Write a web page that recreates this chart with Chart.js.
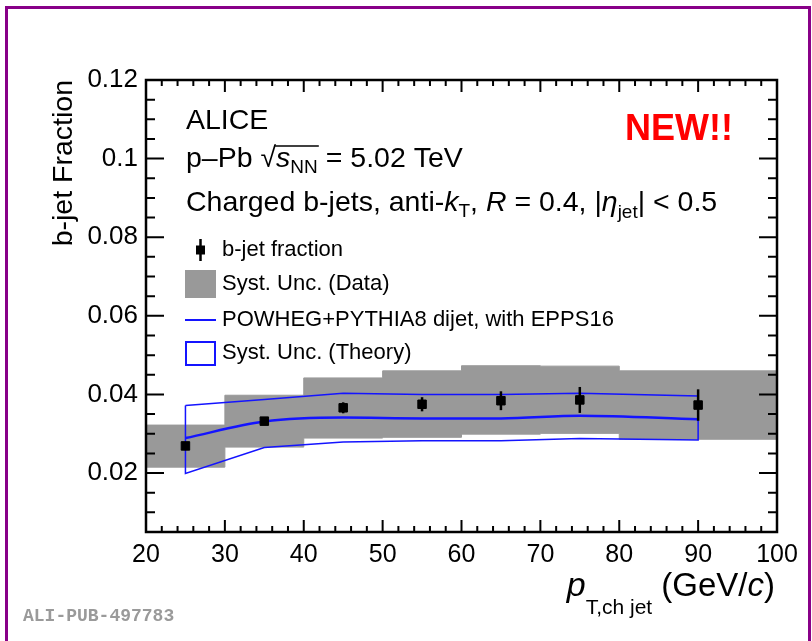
<!DOCTYPE html>
<html>
<head>
<meta charset="utf-8">
<script src="https://cdn.jsdelivr.net/npm/chart.js@4.4.1/dist/chart.umd.min.js"></script>
<style>
  html, body { margin: 0; padding: 0; background: #fff; }
  #wrap { position: relative; width: 812px; height: 641px; overflow: hidden; }
  #bjetChart { position: absolute; left: 0; top: 0; }
  #frame { position: absolute; left: 5px; top: 6px; width: 800px; height: 700px; border: 3px solid #880088; }
</style>
</head>
<body>
<div id="wrap">
  <canvas id="bjetChart" width="812" height="641"></canvas>
  <div id="frame"></div>
</div>
<script>
// charged-jet pT bins (GeV/c)
const binEdges = [20, 30, 40, 50, 60, 70, 80, 100];
const ptCenters = [25, 35, 45, 55, 65, 75, 90];

// measured b-jet fraction and stat. errors
const bFraction = [0.0269, 0.0332, 0.0366, 0.0375, 0.0384, 0.0386, 0.0373];
const statErr = [0.0010, 0.0008, 0.0014, 0.0018, 0.0024, 0.0033, 0.0040];

// data systematic band, one value per bin
const systLow = [0.0215, 0.0266, 0.0289, 0.0291, 0.0299, 0.0301, 0.0286];
const systHigh = [0.0322, 0.0398, 0.0442, 0.0460, 0.0473, 0.0472, 0.0460];

// POWHEG+PYTHIA8 prediction and its band
const theoryCentral = [0.0289, 0.0331, 0.0341, 0.0339, 0.0339, 0.0346, 0.0337];
const theoryLow = [0.0199, 0.0265, 0.0279, 0.0282, 0.0282, 0.0288, 0.0284];
const theoryHigh = [0.0372, 0.0387, 0.0403, 0.0400, 0.0400, 0.0403, 0.0396];

// axis ticks
const xTicks = [20, 30, 40, 50, 60, 70, 80, 90, 100];
const yTicks = [0.02, 0.04, 0.06, 0.08, 0.1, 0.12];
const yTickLabels = ['0.02', '0.04', '0.06', '0.08', '0.1', '0.12'];

const fam = "'Liberation Sans', Arial, Helvetica, sans-serif";
const blue = '#1414ff';
const gray = '#999999';

function fontOf(size, italic, bold) {
  return (italic ? 'italic ' : '') + (bold ? 'bold ' : '') + size + 'px ' + fam;
}

// parts: [text, size, italic, dy]
function drawRich(ctx, parts, x, y, alignRight) {
  let total = 0;
  parts.forEach((p) => {
    ctx.font = fontOf(p[1], p[2]);
    total += ctx.measureText(p[0]).width;
  });
  let cx = alignRight ? x - total : x;
  const pos = [];
  parts.forEach((p) => {
    ctx.font = fontOf(p[1], p[2]);
    ctx.fillText(p[0], cx, y + (p[3] || 0));
    const w = ctx.measureText(p[0]).width;
    pos.push([cx, cx + w]);
    cx += w;
  });
  return pos;
}

// build the point lists from the arrays above
const dataPts = ptCenters.map((x, i) => ({ x: x, y: bFraction[i] }));
const systHighPts = binEdges.map((x, i) => ({ x: x, y: systHigh[Math.min(i, systHigh.length - 1)] }));
const systLowPts = binEdges.map((x, i) => ({ x: x, y: systLow[Math.min(i, systLow.length - 1)] }));
const centralPts = ptCenters.map((x, i) => ({ x: x, y: theoryCentral[i] }));
const bandPts = ptCenters.map((x, i) => ({ x: x, y: theoryHigh[i] }))
  .concat(ptCenters.map((x, i) => ({ x: x, y: theoryLow[i] })).reverse());
bandPts.push(bandPts[0]);

// stat. error bars
const errorBars = {
  id: 'errorBars',
  afterDatasetsDraw(chart) {
    const { ctx, scales: { x, y } } = chart;
    ctx.save();
    ctx.strokeStyle = '#000';
    ctx.lineWidth = 2.5;
    ptCenters.forEach((pt, i) => {
      const px = x.getPixelForValue(pt);
      ctx.beginPath();
      ctx.moveTo(px, y.getPixelForValue(bFraction[i] - statErr[i]));
      ctx.lineTo(px, y.getPixelForValue(bFraction[i] + statErr[i]));
      ctx.stroke();
    });
    ctx.restore();
  }
};

// ROOT-style frame with inner ticks on all four sides
const rootFrame = {
  id: 'rootFrame',
  afterDraw(chart) {
    const { ctx, chartArea: a, scales: { x, y } } = chart;
    ctx.save();
    ctx.strokeStyle = '#000';
    ctx.lineWidth = 2.5;
    ctx.strokeRect(a.left, a.top, a.right - a.left, a.bottom - a.top);
    ctx.lineWidth = 2;
    ctx.beginPath();
    const nx = Math.round((x.max - x.min) / 2);
    for (let k = 0; k <= nx; k++) {
      const v = x.min + 2 * k;
      const px = x.getPixelForValue(v);
      const len = xTicks.includes(v) ? 12 : 6;
      ctx.moveTo(px, a.bottom); ctx.lineTo(px, a.bottom - len);
      ctx.moveTo(px, a.top); ctx.lineTo(px, a.top + len);
    }
    for (let k = 1; k <= 24; k++) {
      const py = y.getPixelForValue(k * 0.005);
      const len = k % 4 === 0 ? 18 : 9;
      ctx.moveTo(a.left, py); ctx.lineTo(a.left + len, py);
      ctx.moveTo(a.right, py); ctx.lineTo(a.right - len, py);
    }
    ctx.stroke();
    ctx.restore();
  }
};

// axis titles, labels and legend
const texts = {
  id: 'texts',
  afterDraw(chart) {
    const { ctx, chartArea: a } = chart;
    const ds = chart.data.datasets;
    ctx.save();
    ctx.fillStyle = '#000';
    ctx.textBaseline = 'alphabetic';
    ctx.textAlign = 'left';

    // y title
    ctx.save();
    ctx.translate(64, a.top);
    ctx.rotate(-Math.PI / 2);
    ctx.textAlign = 'right';
    ctx.textBaseline = 'middle';
    ctx.font = fontOf(28.5);
    ctx.fillText('b-jet Fraction', 0, 0);
    ctx.restore();

    // x title
    drawRich(ctx, [
      ['p', 34, true],
      ['T,ch jet', 21, false, 18],
      [' (GeV/', 33],
      ['c', 33, true],
      [')', 33]
    ], a.right - 2, 596, true);

    // labels
    ctx.font = fontOf(28.5);
    ctx.fillText('ALICE', 186, 129);
    const p2 = drawRich(ctx, [
      ['p\u2013Pb ', 28.5],
      ['\u221A', 28.5],
      ['s', 28.5, true],
      ['NN', 19, false, 6],
      [' = 5.02 TeV', 28.5]
    ], 186, 167);
    ctx.strokeStyle = '#000';
    ctx.lineWidth = 1.5;
    ctx.beginPath();
    ctx.moveTo(p2[1][1] - 1, 146);
    ctx.lineTo(p2[3][1] + 1, 146);
    ctx.stroke();
    drawRich(ctx, [
      ['Charged b-jets, anti-', 28.5],
      ['k', 28.5, true],
      ['T', 19, false, 6],
      [', ', 28.5],
      ['R', 28.5, true],
      [' = 0.4, |', 28.5],
      ['\u03B7', 28.5, true],
      ['jet', 19, false, 7],
      ['| < 0.5', 28.5]
    ], 186, 211);

    ctx.fillStyle = '#ff0000';
    ctx.font = fontOf(36, false, true);
    ctx.fillText('NEW!!', 625, 140);

    ctx.fillStyle = '#9a9a9a';
    ctx.font = "bold 18px 'Liberation Mono', 'DejaVu Sans Mono', monospace";
    ctx.fillText('ALI-PUB-497783', 23, 621);

    // legend
    const sx0 = 185, sx1 = 216, sc = (sx0 + sx1) / 2, tx = 222;
    const rows = [250, 284, 320, 353];
    ctx.font = fontOf(22);
    ctx.textBaseline = 'middle';
    ctx.fillStyle = '#000';
    // b-jet fraction
    ctx.strokeStyle = '#000';
    ctx.lineWidth = 2.5;
    ctx.beginPath();
    ctx.moveTo(sc, rows[0] - 11); ctx.lineTo(sc, rows[0] + 11);
    ctx.stroke();
    ctx.fillRect(sc - 4.5, rows[0] - 4.5, 9, 9);
    ctx.fillText(ds[0].label, tx, rows[0]);
    // data syst
    ctx.fillStyle = ds[3].backgroundColor;
    ctx.fillRect(sx0, rows[1] - 14, sx1 - sx0, 28);
    ctx.fillStyle = '#000';
    ctx.fillText(ds[3].label, tx, rows[1]);
    // theory line
    ctx.strokeStyle = ds[1].borderColor;
    ctx.lineWidth = 2;
    ctx.beginPath();
    ctx.moveTo(sx0, rows[2]); ctx.lineTo(sx1, rows[2]);
    ctx.stroke();
    ctx.fillText(ds[1].label, tx, rows[2]);
    // theory band
    ctx.strokeStyle = ds[2].borderColor;
    ctx.lineWidth = 2;
    ctx.strokeRect(sx0 + 1, rows[3] - 11, sx1 - sx0 - 2, 23);
    ctx.fillText(ds[2].label, tx, rows[3]);
    ctx.restore();
  }
};

Chart.defaults.font.family = fam;
Chart.defaults.color = '#000';

const ctx = document.getElementById('bjetChart').getContext('2d');
const bjetChart = new Chart(ctx, {
  type: 'line',
  data: {
    datasets: [
      {
        label: 'b-jet fraction',
        data: dataPts,
        showLine: false,
        pointStyle: 'rect',
        pointRadius: 6,
        borderWidth: 1,
        backgroundColor: '#000',
        borderColor: '#000',
        order: 0,
      },
      {
        label: 'POWHEG+PYTHIA8 dijet, with EPPS16',
        data: centralPts,
        borderColor: blue,
        borderWidth: 2.5,
        pointRadius: 0,
        cubicInterpolationMode: 'monotone',
        order: 1,
      },
      {
        label: 'Syst. Unc. (Theory)',
        data: bandPts,
        borderColor: blue,
        borderWidth: 1.5,
        pointRadius: 0,
        fill: false,
        order: 2,
      },
      {
        label: 'Syst. Unc. (Data)',
        data: systHighPts,
        stepped: 'before',
        fill: '+1',
        backgroundColor: gray,
        borderColor: gray,
        borderWidth: 1,
        pointRadius: 0,
        order: 3,
      },
      {
        label: 'syst low',
        data: systLowPts,
        stepped: 'before',
        fill: false,
        borderColor: gray,
        borderWidth: 1,
        pointRadius: 0,
        order: 4,
      },
    ],
  },
  options: {
    responsive: false,
    animation: false,
    events: [],
    layout: { padding: { top: 80, right: 35, bottom: 0, left: 0 } },
    scales: {
      x: {
        type: 'linear',
        min: 20,
        max: 100,
        afterBuildTicks: (s) => { s.ticks = xTicks.map((v) => ({ value: v })); },
        afterFit: (s) => { s.height = 109; },
        ticks: { font: { size: 25 }, color: '#000', padding: 8, maxRotation: 0, autoSkip: false },
        grid: { display: false, drawTicks: false },
        border: { display: false },
      },
      y: {
        type: 'linear',
        min: 0.005,
        max: 0.12,
        afterBuildTicks: (s) => { s.ticks = yTicks.map((v) => ({ value: v })); },
        afterFit: (s) => { s.width = 146; },
        ticks: {
          font: { size: 26 },
          color: '#000',
          padding: 8,
          autoSkip: false,
          callback: (v) => yTickLabels[yTicks.indexOf(v)],
        },
        grid: { display: false, drawTicks: false },
        border: { display: false },
      },
    },
    plugins: {
      legend: { display: false },
      tooltip: { enabled: false },
    },
  },
  plugins: [errorBars, rootFrame, texts],
});
</script>
</body>
</html>
